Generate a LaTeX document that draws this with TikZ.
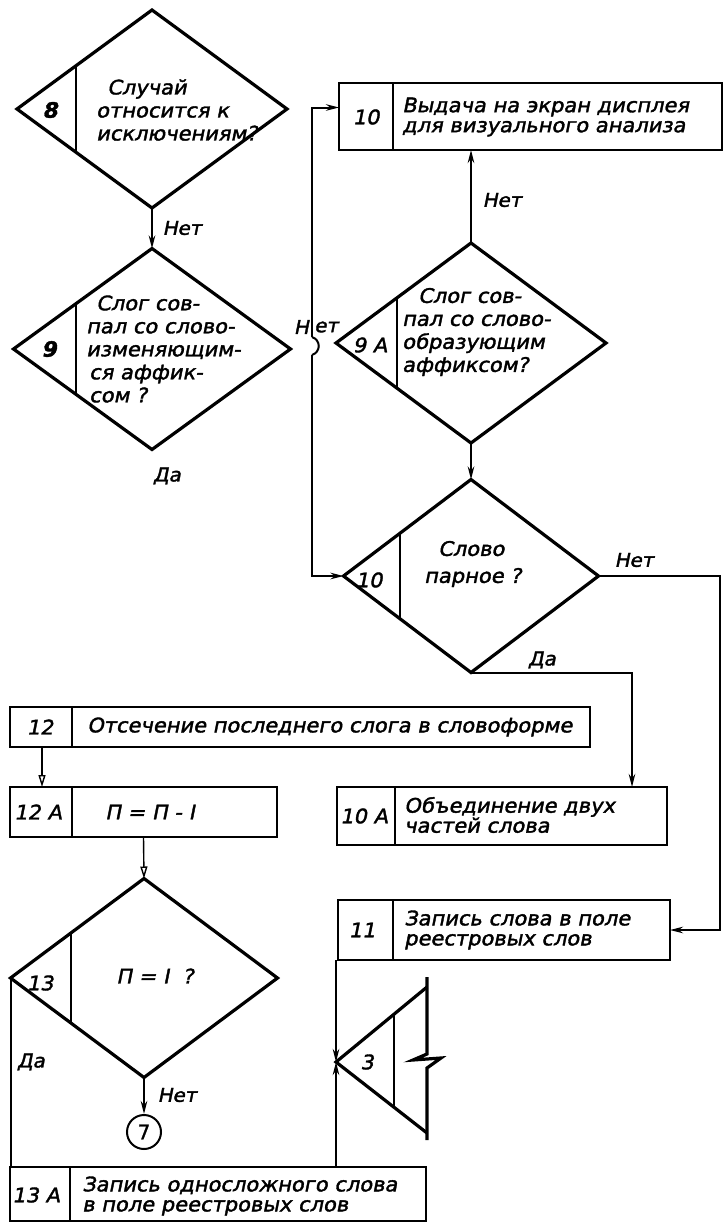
\documentclass[tikz,border=0pt]{standalone}
\usepackage{fontspec}
\newfontfamily\gost[FakeStretch=1.05,FakeSlant=0.2,FakeBold=1.8]{DejaVu Sans}
\newfontfamily\plainf[FakeBold=1.2]{DejaVu Sans}
\usetikzlibrary{shapes.geometric,arrows.meta,calc}
\begin{document}
\begin{tikzpicture}[x=1pt,y=-1pt,
  dia/.style n args={2}{shape=diamond,draw,line width=3.2pt,inner sep=0pt,outer sep=0pt,minimum width=#1,minimum height=#2},
  box/.style n args={2}{draw,line width=2.8pt,inner sep=0pt,outer sep=0pt,minimum width=#1,minimum height=#2},
  shp/.style={line width=3.2pt},
  divl/.style={line width=2pt},
  con/.style={line width=2pt},
  arr/.style={line width=2pt,-{Stealth[length=13pt,width=6.5pt]}},
  harr/.style={line width=1.4pt,-{Triangle[open,length=12pt,width=7pt]}},
  txt/.style={font=\gost\fontsize{20}{23}\selectfont,align=left,inner sep=0pt},
  btxt/.style={font=\gost\fontsize{20}{20}\selectfont,align=left,inner sep=0pt},
  num/.style={font=\gost\fontsize{20}{20}\selectfont,inner sep=0pt},
  bnum/.style={font=\gost\bfseries\fontsize{21}{21}\selectfont,inner sep=0pt},
  lbl/.style={font=\gost\fontsize{19}{20}\selectfont,inner sep=0pt}
]
\useasboundingbox[fill=white] (0,0) rectangle (723,1223);

% ---- diamonds
\node[dia={270pt}{198pt}] (d8) at (152,109) {};
\draw[divl] ($(d8.west)!0.44!(d8.north)$) -- ($(d8.west)!0.44!(d8.south)$);
\node[bnum] (n8) at (50,110) {8};
\node[txt,anchor=west] (t8) at (96,110) {\hspace*{11pt}Случай\\относится к\\исключениям?};

\node[dia={277pt}{201pt}] (d9) at (152,349) {};
\draw[divl] ($(d9.west)!0.45!(d9.north)$) -- ($(d9.west)!0.45!(d9.south)$);
\node[bnum] (n9) at (49,349) {9};
\node[txt,anchor=west] (t9) at (86,349) {\hspace*{10pt}Слог сов-\\пал со слово-\\изменяющим-\\\hspace*{3pt}ся аффик-\\\hspace*{3pt}сом ?};

\node[dia={270pt}{200pt}] (d9a) at (471,343) {};
\draw[divl] ($(d9a.west)!0.45!(d9a.north)$) -- ($(d9a.west)!0.45!(d9a.south)$);
\node[num] (n9a) at (370,345) {9 A};
\node[txt,anchor=west] (t9a) at (402,332) {\hspace*{16pt}Слог сов-\\пал со слово-\\образующим\\аффиксом?};

\node[dia={255pt}{193pt}] (d10) at (471,576) {};
\draw[divl] ($(d10.west)!0.44!(d10.north)$) -- ($(d10.west)!0.44!(d10.south)$);
\node[num] (n10d) at (369,580) {10};
\node[txt,anchor=west] (t10d) at (424,564) {\hspace*{14pt}Слово\\[4pt]парное ?};

\node[dia={267pt}{199pt}] (d13) at (144,978) {};
\draw[divl] ($(d13.west)!0.45!(d13.north)$) -- ($(d13.west)!0.45!(d13.south)$);
\node[num] (n13) at (40,983) {13};
\node[txt] (t13) at (155,976) {П = I \ ?};

% ---- boxes
\node[box={383pt}{67pt}] (b10) at (530.5,116.5) {};
\draw[divl] ($(b10.north west)+(54,0)$) -- ($(b10.south west)+(54,0)$);
\node[num] (n10b) at (366,117) {10};
\node[btxt,anchor=west] (t10b) at (402,117) {Выдача на экран дисплея\\для визуального анализа};

\node[box={580pt}{40pt}] (b12) at (300,727) {};
\draw[divl] ($(b12.north west)+(62,0)$) -- ($(b12.south west)+(62,0)$);
\node[num] (n12) at (40,727) {12};
\node[btxt,anchor=west] (t12) at (87,727) {Отсечение последнего слога в словоформе};

\node[box={267pt}{50pt}] (b12a) at (143.5,812) {};
\draw[divl] ($(b12a.north west)+(62,0)$) -- ($(b12a.south west)+(62,0)$);
\node[num] (n12a) at (38,812) {12 A};
\node[btxt] (t12a) at (150,812) {П = П - I};

\node[box={330pt}{58pt}] (b10a) at (502,816) {};
\draw[divl] ($(b10a.north west)+(58,0)$) -- ($(b10a.south west)+(58,0)$);
\node[num] (n10a) at (364,816) {10 A};
\node[btxt,anchor=west] (t10a) at (404,815) {Объединение двух\\частей слова};

\node[box={332pt}{60pt}] (b11) at (504,930) {};
\draw[divl] ($(b11.north west)+(55,0)$) -- ($(b11.south west)+(55,0)$);
\node[num] (n11) at (362,930) {11};
\node[btxt,anchor=west] (t11) at (404,930) {Запись слова в поле\\реестровых слов};

\node[box={416pt}{54pt}] (b13a) at (218,1194) {};
\draw[divl] ($(b13a.north west)+(60,0)$) -- ($(b13a.south west)+(60,0)$);
\node[num] (n13a) at (36,1195) {13 A};
\node[btxt,anchor=west] (t13a) at (82,1196) {Запись односложного слова\\в поле реестровых слов};

% ---- connector 3
\coordinate (c3) at (336,1062);
\coordinate (c3t) at (427,987);
\coordinate (c3b) at (427,1133);
\draw[shp,line join=miter] (c3t) -- (c3) -- (c3b);
\draw[divl] ($(c3)!0.637!(c3t)$) -- ($(c3)!0.637!(c3b)$);
\draw[shp] (427,977) -- (427,1054) -- (413,1060) -- (441,1058) -- (427,1068) -- (427,1140);
\node[num] (n3) at (367,1062) {3};

% ---- circle 7
\node[draw,circle,line width=2pt,minimum size=34pt,inner sep=0pt,font=\plainf\fontsize{20}{20}\selectfont] (c7) at (144,1132) {7};

% ---- connectors
\draw[arr] (d8.south) -- (d9.north);
\node[lbl] (l1) at (182,228) {Нет};
\node[lbl] (l2) at (167,476) {Да};

\draw[arr] (d9a.north) -- (d9a.north |- b10.south);
\node[lbl] (l3) at (502,200) {Нет};

\coordinate (jt) at (312,337);
\coordinate (jb) at (312,355);
\draw[arr] (jt) |- ($(b10.west)+(0,-9)$);
\draw[con] (jt) .. controls (321,340) and (321,352) .. (jb);
\draw[arr] (jb) |- (d10.west);
\node[lbl,anchor=east] (l4a) at (309,327) {Н};
\node[lbl,anchor=west] (l4b) at (314,327) {ет};

\draw[arr] (d9a.south) -- (d10.north);

\coordinate (xr) at (720,573);
\draw[arr] (d10.east) -- (d10.east -| xr) |- (b11.east);
\node[lbl] (l5) at (634,560) {Нет};

\draw[arr] (d10.south) -| ($(b10a.north east)+(-35,0)$);
\node[lbl] (l6) at (542,660) {Да};

\draw[harr] ($(b12.south west)+(32,0)$) -- ($(b12a.north west)+(32,0)$);
\draw[harr] (b12a.south) -- (d13.north);

\draw[arr] (d13.south) -- (c7.north);
\node[lbl] (l7) at (177,1095) {Нет};

\draw[con] (d13.west) -- (d13.west |- b13a.north);
\node[lbl] (l8) at (31,1062) {Да};

\draw[arr] (b11.south west -| c3) -- (c3);
\draw[arr] (b13a.north -| c3) -- (c3);
\end{tikzpicture}
\end{document}
